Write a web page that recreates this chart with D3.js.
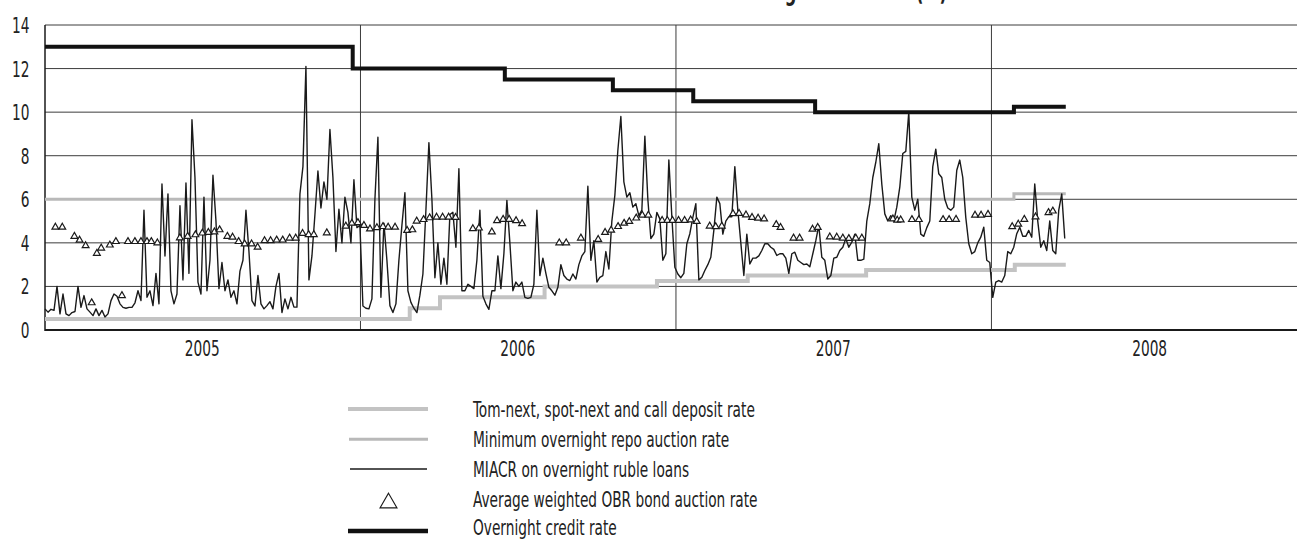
<!DOCTYPE html>
<html><head><meta charset="utf-8">
<script src="https://cdn.jsdelivr.net/npm/d3@7"></script>
<style>body{margin:0;background:#fff} svg{display:block;background:#fff}</style>
</head><body>
<svg id="c" width="1297" height="540"></svg>
<script>
// ---------------- DATA ----------------
const titleText = "Bank of Russia interest rates and interbank lending market rate (%)";
const yTicks = [0, 2, 4, 6, 8, 10, 12, 14];
const yearLabels = [2005, 2006, 2007, 2008];
const legendLabels = [
  "Tom-next, spot-next and call deposit rate",
  "Minimum overnight repo auction rate",
  "MIACR on overnight ruble loans",
  "Average weighted OBR bond auction rate",
  "Overnight credit rate"
];

// MIACR, sampled every ~3.5 days from the start date
const miacrStart = "2005-01-01";
const miacrStepDays = 3.47;
const miacrValues = [
0.97,0.82,0.95,0.9,2.0,0.74,1.65,0.74,0.66,0.8,
0.85,2.0,1.04,1.58,0.97,0.82,0.66,0.97,0.66,0.9,
0.6,0.74,1.35,1.65,1.55,1.2,1.04,1.0,1.04,1.04,
1.25,1.8,1.35,5.5,1.5,1.8,1.12,2.6,1.2,6.7,
3.4,6.25,1.8,1.2,1.65,5.7,2.3,6.75,2.6,9.65,
7.0,2.2,1.65,6.1,1.8,3.2,7.1,5.0,1.9,3.1,
1.8,2.3,1.5,1.8,1.2,2.7,3.2,5.5,3.6,1.35,
1.1,2.5,1.2,0.97,1.12,1.3,0.97,2.0,2.6,0.8,
1.43,0.97,1.5,1.05,1.05,6.25,7.5,12.1,2.3,3.4,
5.3,7.3,5.6,6.8,6.0,9.2,7.0,3.6,5.55,4.0,
6.1,5.4,4.0,6.9,4.7,4.8,1.1,1.0,0.97,1.43,
6.0,8.85,1.5,4.9,3.2,1.12,0.8,1.2,3.2,4.8,
6.3,1.8,1.27,1.0,0.8,1.6,2.57,5.5,8.6,6.0,
2.4,4.0,2.1,3.3,2.1,5.3,5.4,3.8,7.4,1.8,
1.8,2.1,2.0,1.9,3.2,5.5,1.55,1.2,0.95,1.8,
1.8,3.4,1.9,3.5,5.95,4.0,1.8,2.2,2.0,2.2,
1.5,1.45,1.5,2.1,5.5,2.5,3.3,2.6,1.96,1.8,
1.6,1.96,3.0,2.5,2.34,2.27,2.57,2.34,3.0,3.4,
3.6,6.6,3.2,4.1,2.2,2.42,2.5,3.6,2.8,5.0,
6.18,8.25,9.8,6.8,6.1,6.3,5.64,5.8,5.25,5.5,
8.9,6.0,4.2,4.4,5.4,5.1,3.2,3.5,7.8,5.2,
2.88,2.57,2.4,2.6,3.96,4.42,5.17,5.8,2.3,2.42,
2.73,3.0,3.34,4.57,6.1,5.8,4.4,5.0,5.2,5.2,
7.5,5.5,4.0,2.5,4.4,3.03,3.3,3.3,3.4,3.65,
3.96,3.96,3.8,3.7,3.42,3.5,3.5,3.3,2.6,3.5,
3.57,3.2,3.1,3.0,3.03,2.9,3.5,4.1,4.8,3.34,
3.2,2.34,2.5,3.3,3.34,3.65,3.8,4.2,3.8,4.03,
4.4,3.2,3.2,3.25,5.0,5.8,7.0,7.7,8.55,6.7,
5.33,5.0,5.25,5.0,5.64,6.56,8.1,8.2,10.0,6.1,
5.5,6.0,4.4,4.3,4.7,5.0,7.5,8.3,7.17,7.0,
6.0,5.6,5.5,5.64,7.33,7.8,7.0,5.17,3.96,3.5,
3.6,4.0,4.26,4.72,3.2,3.1,1.5,2.2,2.27,2.2,
2.5,3.6,3.5,3.8,4.42,4.72,4.3,4.3,4.57,4.26,
6.7,5.0,3.8,4.1,3.65,5.0,3.65,3.5,5.5,6.25,
4.2
];

const overnightDates = ["2005-01-01","2005-12-23","2006-06-17","2006-10-20","2007-01-21","2007-06-11","2008-01-27","2008-03-27"];
const overnightValues = [13, 12, 11.5, 11, 10.5, 10, 10.25, 10.25];

const repoDates = ["2005-01-01","2008-01-27","2008-03-27"];
const repoValues = [6, 6.25, 6.25];

const depositDates = ["2005-01-01","2006-02-27","2006-04-03","2006-08-02","2006-12-10","2007-03-25","2007-08-09","2008-01-28","2008-03-27"];
const depositValues = [0.5, 1, 1.5, 2, 2.25, 2.5, 2.75, 3, 3];

const obrDates = [
"2005-01-13","2005-01-21","2005-02-04","2005-02-10","2005-02-17","2005-02-24","2005-03-02","2005-03-07","2005-03-17","2005-03-24",
"2005-03-31","2005-04-07","2005-04-15","2005-04-22","2005-04-29","2005-05-04","2005-05-11","2005-06-06","2005-06-15","2005-06-24",
"2005-07-02","2005-07-09","2005-07-16","2005-07-22","2005-07-31","2005-08-06","2005-08-13","2005-08-20","2005-08-28","2005-09-04",
"2005-09-12","2005-09-19","2005-09-26","2005-10-03","2005-10-11","2005-10-18","2005-10-26","2005-11-02","2005-11-08","2005-11-23",
"2005-12-15","2005-12-22","2005-12-29","2006-01-05","2006-01-12","2006-01-20","2006-01-27","2006-02-02","2006-02-10","2006-02-24",
"2006-03-02","2006-03-07","2006-03-15","2006-03-22","2006-03-30","2006-04-06","2006-04-13","2006-04-21","2006-05-11","2006-05-18",
"2006-06-02","2006-06-08","2006-06-15","2006-06-22","2006-06-30","2006-07-07","2006-08-19","2006-08-27","2006-09-13","2006-10-03",
"2006-10-11","2006-10-18","2006-10-26","2006-11-02","2006-11-08","2006-11-16","2006-11-23","2006-11-30","2006-12-16","2006-12-22",
"2006-12-28","2007-01-04","2007-01-11","2007-01-18","2007-01-25","2007-02-09","2007-02-16","2007-02-23","2007-03-08","2007-03-15",
"2007-03-23","2007-03-30","2007-04-06","2007-04-13","2007-04-27","2007-05-02","2007-05-17","2007-05-24","2007-06-08","2007-06-14",
"2007-06-28","2007-07-06","2007-07-13","2007-07-20","2007-07-28","2007-08-04","2007-09-09","2007-09-14","2007-09-18","2007-10-01",
"2007-10-09","2007-11-06","2007-11-13","2007-11-21","2007-12-13","2007-12-20","2007-12-28","2008-01-25","2008-02-01","2008-02-08",
"2008-02-21","2008-03-07","2008-03-12"
];
const obrValues = [
4.72,4.72,4.3,4.12,3.87,1.25,3.52,3.76,3.9,4.06,
1.58,4.06,4.06,4.06,4.06,4.06,4.0,4.23,4.3,4.37,
4.45,4.48,4.5,4.6,4.3,4.26,4.06,3.95,3.95,3.8,
4.1,4.1,4.13,4.13,4.22,4.22,4.43,4.38,4.38,4.46,
4.77,4.9,4.93,4.8,4.64,4.7,4.75,4.72,4.72,4.57,
4.6,5.0,5.07,5.15,5.18,5.18,5.18,5.17,4.65,4.68,
4.5,5.02,5.08,5.08,5.02,4.88,4.0,4.0,4.22,4.16,
4.48,4.58,4.75,4.9,4.98,5.14,5.27,5.27,5.03,5.03,
5.03,5.03,5.03,5.05,4.98,4.77,4.74,4.77,5.34,5.35,
5.28,5.17,5.13,5.1,4.84,4.71,4.22,4.22,4.63,4.71,
4.27,4.26,4.22,4.2,4.22,4.22,5.1,5.04,5.05,5.07,
5.07,5.07,5.07,5.08,5.27,5.27,5.31,4.74,4.86,5.08,
5.19,5.39,5.46
];

// ---------------- CHART ----------------
const W = 1297;
const parse = d3.timeParse("%Y-%m-%d");
const fontFam = "'Liberation Sans Narrow','Arial Narrow','DejaVu Sans Condensed','Liberation Sans',Arial,sans-serif";
const ink = "#1a1a1a";

const x = d3.scaleTime()
  .domain([new Date(2005, 0, 1), new Date(2009, 0, 1)])
  .range([45, 45 + 4 * 315.7]);
const y = d3.scaleLinear().domain([0, 14]).range([330, 25]);

const svg = d3.select("#c");

// condensed text factor (measured so the first legend label fits its width)
const meas = svg.append("text").attr("font-family", fontFam).attr("font-size", 22).text(legendLabels[0]);
const sx = 282 / meas.node().getComputedTextLength();
meas.remove();

function ctext(g, tx, ty, str, opts) {
  opts = opts || {};
  return g.append("text")
    .attr("transform", `translate(${tx},${ty}) scale(${sx},1)`)
    .attr("font-family", fontFam)
    .attr("font-size", opts.size || 22)
    .attr("font-weight", opts.weight || "normal")
    .attr("text-anchor", opts.anchor || "start")
    .attr("dy", opts.dy || 0)
    .attr("fill", "#222")
    .text(str);
}

// title (lies above the visible area, as in the reference: only descenders show)
ctext(svg, 947, -0.5, titleText, {size: 26, weight: "bold", anchor: "end"});

// grid
const grid = svg.append("g");
yTicks.filter(v => v > 0).forEach(v => {
  grid.append("line")
    .attr("x1", x.range()[0]).attr("x2", W)
    .attr("y1", y(v)).attr("y2", y(v))
    .attr("stroke", "#3c3c3c").attr("stroke-width", 1);
});
yearLabels.slice(1).forEach(yr => {
  grid.append("line")
    .attr("x1", x(new Date(yr, 0, 1))).attr("x2", x(new Date(yr, 0, 1)))
    .attr("y1", y(14)).attr("y2", y(0))
    .attr("stroke", "#3c3c3c").attr("stroke-width", 1);
});

// axes lines
svg.append("line").attr("x1", x.range()[0]).attr("x2", x.range()[0])
  .attr("y1", y(14)).attr("y2", y(0) + 1).attr("stroke", ink).attr("stroke-width", 1.5);
svg.append("line").attr("x1", x.range()[0]).attr("x2", W)
  .attr("y1", y(0)).attr("y2", y(0)).attr("stroke", ink).attr("stroke-width", 2);

// tick labels
const lab = svg.append("g");
yTicks.forEach(v => ctext(lab, 29.5, y(v), String(v), {anchor: "end", dy: "0.36em"}));
yearLabels.forEach(yr => ctext(lab, x(new Date(yr, 6, 2)), 356, String(yr), {anchor: "middle"}));

// series
const stepLine = d3.line().curve(d3.curveStepAfter).x(d => x(d[0])).y(d => y(d[1]));
const zip = (ds, vs) => ds.map((d, i) => [parse(d), vs[i]]);

const plot = svg.append("g");
plot.append("path").datum(zip(depositDates, depositValues))
  .attr("d", stepLine).attr("fill", "none").attr("stroke", "#c3c3c3").attr("stroke-width", 4);
plot.append("path").datum(zip(repoDates, repoValues))
  .attr("d", stepLine).attr("fill", "none").attr("stroke", "#b9b9b9").attr("stroke-width", 3);

const t0 = parse(miacrStart).getTime();
const miacr = miacrValues.map((v, i) => [new Date(t0 + i * miacrStepDays * 86400000), v]);
plot.append("path").datum(miacr)
  .attr("d", d3.line().x(d => x(d[0])).y(d => y(d[1])))
  .attr("fill", "none").attr("stroke", ink).attr("stroke-width", 1.4).attr("stroke-linejoin", "round");

plot.append("path").datum(zip(overnightDates, overnightValues))
  .attr("d", stepLine).attr("fill", "none").attr("stroke", "#111").attr("stroke-width", 4);

const tri = d3.symbol().type(d3.symbolTriangle).size(20);
plot.selectAll("path.obr").data(zip(obrDates, obrValues)).join("path")
  .attr("class", "obr")
  .attr("transform", d => `translate(${x(d[0])},${y(d[1])})`)
  .attr("d", tri).attr("fill", "#fff").attr("stroke", ink).attr("stroke-width", 1.2);

// legend
const leg = svg.append("g");
const rowY = [416.5, 446.7, 477, 507, 535];
const lx1 = 348, lx2 = 428;
leg.append("line").attr("x1", lx1).attr("x2", lx2).attr("y1", rowY[0] - 7.5).attr("y2", rowY[0] - 7.5)
  .attr("stroke", "#c3c3c3").attr("stroke-width", 4);
leg.append("line").attr("x1", lx1 + 1).attr("x2", lx2).attr("y1", rowY[1] - 7.5).attr("y2", rowY[1] - 7.5)
  .attr("stroke", "#b9b9b9").attr("stroke-width", 3);
leg.append("line").attr("x1", lx1 + 2).attr("x2", lx2 - 1).attr("y1", rowY[2] - 8).attr("y2", rowY[2] - 8)
  .attr("stroke", ink).attr("stroke-width", 1.3);
leg.append("path").attr("transform", `translate(388.5,${rowY[3] - 4})`)
  .attr("d", d3.symbol().type(d3.symbolTriangle).size(125))
  .attr("fill", "none").attr("stroke", ink).attr("stroke-width", 1.1);
leg.append("line").attr("x1", lx1).attr("x2", lx2).attr("y1", rowY[4] - 4).attr("y2", rowY[4] - 4)
  .attr("stroke", "#111").attr("stroke-width", 4.5);
legendLabels.forEach((t, i) => ctext(leg, 473, rowY[i], t));
</script>
</body></html>
